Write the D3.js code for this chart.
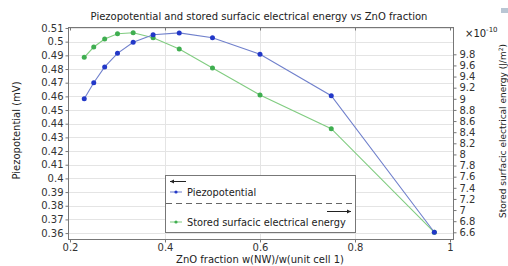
<!DOCTYPE html>
<html>
<head>
<meta charset="utf-8">
<script src="https://cdn.jsdelivr.net/npm/d3@7"></script>
<style>
  html, body { margin: 0; padding: 0; background: #fff; }
  svg { display: block; font-family: "DejaVu Sans", sans-serif; }
</style>
</head>
<body>
<div id="chart"></div>
<script>
const fractions = [0.23, 0.25, 0.273, 0.3, 0.333, 0.375, 0.43, 0.5, 0.6, 0.75, 0.967];
const piezo = [0.4583, 0.47, 0.4815, 0.4915, 0.4996, 0.5051, 0.5064, 0.5029, 0.4908, 0.4605, 0.3606];
const energy = [9.746, 9.931, 10.075, 10.17, 10.188, 10.098, 9.895, 9.554, 9.068, 8.462, 6.6]; // x1e-10
const xTicks = [0.2, 0.4, 0.6, 0.8, 1];
const leftTicks = d3.range(36, 52).map((d) => d / 100);
const rightTicks = d3.range(33, 50).map((d) => d / 5);

const width = 508;
const height = 266;
const plot = { left: 68, right: 453, top: 27, bottom: 239 };

const blueLine = "#7080cc";
const blueDot = "#2238c8";
const greenLine = "#80cc80";
const greenDot = "#3fae50";
const textColor = "#333";

const svg = d3.select("#chart").append("svg").attr("width", width).attr("height", height);

const x = d3.scaleLinear().domain([0.1958, 1.0063]).range([plot.left, plot.right]);
const yL = d3.scaleLinear().domain([0.35568, 0.51073]).range([plot.bottom, plot.top]);
const yR = d3.scaleLinear().domain([6.4795, 10.2908]).range([plot.bottom, plot.top]);

// grid
const grid = svg.append("g").attr("stroke", "#e4e4e4").attr("stroke-width", 1);
grid.selectAll(".h").data(leftTicks).join("line")
  .attr("x1", plot.left).attr("x2", plot.right)
  .attr("y1", (d) => Math.round(yL(d)) + 0.5).attr("y2", (d) => Math.round(yL(d)) + 0.5);
grid.selectAll(".v").data(xTicks.slice(1, -1)).join("line")
  .attr("y1", plot.top).attr("y2", plot.bottom)
  .attr("x1", (d) => Math.round(x(d)) + 0.5).attr("x2", (d) => Math.round(x(d)) + 0.5);

// frame
svg.append("rect")
  .attr("x", plot.left + 0.5).attr("y", plot.top + 0.5)
  .attr("width", plot.right - plot.left).attr("height", plot.bottom - plot.top)
  .attr("fill", "none").attr("stroke", "#777").attr("stroke-width", 1);

// axes
const fmt = (d) => String(+d.toFixed(2));
const axL = svg.append("g").attr("transform", `translate(${plot.left + 0.5},0)`)
  .call(d3.axisLeft(yL).tickValues(leftTicks).tickSize(3).tickPadding(2).tickFormat(fmt));
const axR = svg.append("g").attr("transform", `translate(${plot.right + 0.5},0)`)
  .call(d3.axisRight(yR).tickValues(rightTicks).tickSize(3).tickPadding(3).tickFormat((d) => String(+d.toFixed(1))));
const axB = svg.append("g").attr("transform", `translate(0,${plot.bottom + 0.5})`)
  .call(d3.axisBottom(x).tickValues(xTicks).tickSize(3).tickPadding(1).tickFormat((d) => String(d)));
const axT = svg.append("g").attr("transform", `translate(0,${plot.top + 0.5})`)
  .call(d3.axisTop(x).tickValues(xTicks).tickSize(-3).tickFormat(""));

[axL, axR, axB, axT].forEach((ax) => {
  ax.select(".domain").remove();
  ax.selectAll(".tick line").attr("stroke", "#777");
  ax.selectAll("text").attr("fill", textColor).style("font-size", "10px").style("font-family", "DejaVu Sans");
});

// series
const line = (yScale, values) => d3.line()
  .x((d, i) => x(fractions[i]))
  .y((d, i) => yScale(values[i]))(values);

svg.append("path").attr("d", line(yR, energy))
  .attr("fill", "none").attr("stroke", greenLine).attr("stroke-width", 1.1);
svg.append("path").attr("d", line(yL, piezo))
  .attr("fill", "none").attr("stroke", blueLine).attr("stroke-width", 1.1);

svg.append("g").selectAll("circle").data(energy).join("circle")
  .attr("cx", (d, i) => x(fractions[i])).attr("cy", (d) => yR(d))
  .attr("r", 2.5).attr("fill", greenDot);
svg.append("g").selectAll("circle").data(piezo).join("circle")
  .attr("cx", (d, i) => x(fractions[i])).attr("cy", (d) => yL(d))
  .attr("r", 2.5).attr("fill", blueDot);

// labels
svg.append("text").attr("x", 259).attr("y", 19.5).attr("text-anchor", "middle")
  .attr("fill", "#222").style("font-size", "10px")
  .text("Piezopotential and stored surfacic electrical energy vs ZnO fraction");

svg.append("text").attr("x", 260).attr("y", 263).attr("text-anchor", "middle")
  .attr("fill", "#222").style("font-size", "10px")
  .text("ZnO fraction w(NW)/w(unit cell 1)");

svg.append("text").attr("transform", "translate(20,130.5) rotate(-90)").attr("text-anchor", "middle")
  .attr("fill", "#222").style("font-size", "10px")
  .text("Piezopotential (mV)");

const rLabel = svg.append("text").attr("transform", "translate(505.5,131) rotate(-90)").attr("text-anchor", "middle")
  .attr("fill", "#222").style("font-size", "9px");
rLabel.append("tspan").text("Stored surfacic electrical energy (J/m");
rLabel.append("tspan").attr("dy", -3).style("font-size", "6px").text("2");
rLabel.append("tspan").attr("dy", 3).text(")");

const mult = svg.append("text").attr("x", 465).attr("y", 37).attr("fill", "#222").style("font-size", "10px");
mult.append("tspan").text("×10");
mult.append("tspan").attr("dy", -5).style("font-size", "7px").text("-10");

svg.append("rect").attr("x", 501).attr("y", 8).attr("width", 7).attr("height", 5).attr("fill", "#b9c6d4");

// legend
const lg = svg.append("g");
lg.append("rect").attr("x", 165.5).attr("y", 175.5).attr("width", 190).attr("height", 57)
  .attr("fill", "#fff").attr("stroke", "#777");
lg.append("line").attr("x1", 166).attr("x2", 355).attr("y1", 203.5).attr("y2", 203.5)
  .attr("stroke", "#666").attr("stroke-dasharray", "6,4");

const arrow = (x1, x2, yy) => {
  lg.append("line").attr("x1", x1).attr("x2", x2).attr("y1", yy).attr("y2", yy).attr("stroke", "#222");
  const dir = Math.sign(x2 - x1);
  lg.append("path").attr("d", `M${x2},${yy}L${x2 - dir * 4},${yy - 2}L${x2 - dir * 4},${yy + 2}Z`).attr("fill", "#222");
};
arrow(186, 170, 181.5);
arrow(327, 351, 211.5);

const entries = [
  { label: "Piezopotential", y: 192, line: blueLine, dot: blueDot },
  { label: "Stored surfacic electrical energy", y: 222, line: greenLine, dot: greenDot },
];
entries.forEach((e) => {
  lg.append("line").attr("x1", 170).attr("x2", 182).attr("y1", e.y).attr("y2", e.y).attr("stroke", e.line);
  lg.append("circle").attr("cx", 176).attr("cy", e.y).attr("r", 1.6).attr("fill", e.dot);
  lg.append("text").attr("x", 187).attr("y", e.y + 3.5).attr("fill", "#222").style("font-size", "9.8px").text(e.label);
});
</script>
</body>
</html>
